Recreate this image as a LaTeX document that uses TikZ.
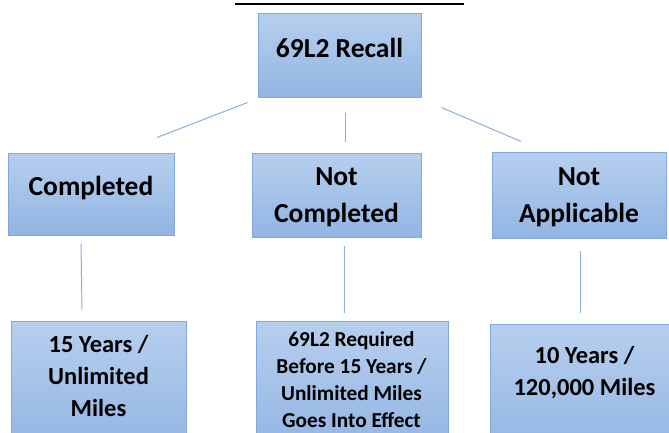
\documentclass[tikz,border=0pt]{standalone}
\usepackage{fontspec}
\setmainfont{Carlito}
\usepackage{xcolor}
\usetikzlibrary{calc}

\definecolor{boxtop}{HTML}{B7CFEE}
\definecolor{boxbot}{HTML}{92B5E3}
\definecolor{boxedge}{HTML}{7FA8DC}
\definecolor{linkblue}{HTML}{86AEDF}

\begin{document}
\begin{tikzpicture}[
    x=1pt, y=-1pt,
    recallbox/.style={rectangle, draw=boxedge, line width=1pt, top color=boxtop, bottom color=boxbot, inner sep=0pt},
    boxtext/.style={align=center, inner sep=0pt},
    bigtext/.style={boxtext, font={\fontsize{27.5}{37}\selectfont\bfseries}},
    midtext/.style={boxtext, font={\fontsize{24.5}{32}\selectfont\bfseries}},
    smalltext/.style={boxtext, font={\fontsize{21.3}{27}\selectfont\bfseries}},
    link/.style={draw=linkblue, line width=1pt}
]
    \useasboundingbox (0,0) rectangle (669,432);
    \clip (0,0) rectangle (669,432);

    % Title underline (title itself cut off)
    \draw[line width=2pt] (235,4) -- (464,4);

    % Top
    \node[recallbox, minimum width=163pt, minimum height=84pt] (recall) at (339.5,55) {};
    \node[bigtext] (recall-t) at (339.5,48) {69L2 Recall};

    % Second row
    \node[recallbox, minimum width=166pt, minimum height=82pt] (done) at (91,194) {};
    \node[bigtext] (done-t) at (91,188) {Completed};
    \node[recallbox, minimum width=169pt, minimum height=84pt] (notdone) at (336.5,195) {};
    \node[bigtext] (notdone-t) at (336.5,197) {Not\\Completed};
    \node[recallbox, minimum width=174pt, minimum height=86pt] (na) at (579,195) {};
    \node[bigtext] (na-t) at (579,197) {Not\\Applicable};

    % Third row
    \node[recallbox, minimum width=175pt, minimum height=130pt] (fifteen) at (98.5,386) {};
    \node[midtext] (fifteen-t) at (98.5,375.5) {15 Years /\\Unlimited\\Miles};
    \node[recallbox, minimum width=192pt, minimum height=130pt] (req) at (352,386) {};
    \node[smalltext] (req-t) at (351.5,379.5) {69L2 Required\\Before 15 Years /\\Unlimited Miles\\Goes Into Effect};
    \node[recallbox, minimum width=189pt, minimum height=130pt] (ten) at (584.5,389) {};
    \node[midtext] (ten-t) at (584.5,372.5) {10 Years /\\120,000 Miles};

    % Connectors
    \draw[link] ($(recall.south west)+(-10,5)$) -- ($(done.north)+(66,-15)$);
    \draw[link] ($(recall.south)+(5.5,15)$) -- ($(notdone.north)+(8.5,-11)$);
    \draw[link] ($(recall.south east)+(20,10)$) -- ($(na.north)+(-58,-10)$);
    \draw[link] ($(done.south)+(-10,8)$) -- ($(fifteen.north)+(-16.5,-11)$);
    \draw[link] ($(notdone.south)+(7.5,8)$) -- ($(req.north)+(-8,-8)$);
    \draw[link] ($(na.south)+(1,12)$) -- ($(ten.north)+(-4.5,-11)$);
\end{tikzpicture}
\end{document}
